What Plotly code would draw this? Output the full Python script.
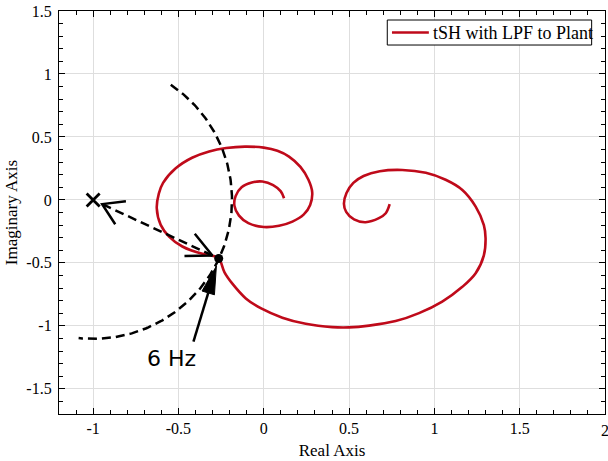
import numpy as np
import plotly.graph_objects as go

# ---------------- data ----------------
curve_re = [0.738, 0.715, 0.675, 0.597, 0.529, 0.483, 0.470, 0.485, 0.525, 0.585,
            0.680, 0.812, 0.950, 1.066, 1.164, 1.242, 1.290, 1.300, 1.290, 1.242,
            1.164, 1.046, 0.910, 0.773, 0.617, 0.500, 0.402, 0.246, 0.109, -0.015,
            -0.105, -0.184, -0.230, -0.262,
            -0.300, -0.360, -0.477, -0.555, -0.604, -0.627, -0.615, -0.590, -0.516, -0.420,
            -0.320, -0.220, -0.110, 0.000, 0.080, 0.148, 0.215, 0.262, 0.284, 0.272,
            0.235, 0.168, 0.090, 0.000, -0.090, -0.145, -0.172, -0.165, -0.130, -0.070,
            -0.008, 0.055, 0.100, 0.119]
curve_im = [-0.034, -0.106, -0.145, -0.177, -0.155, -0.095, -0.030, 0.055, 0.135, 0.190,
            0.228, 0.238, 0.215, 0.160, 0.079, -0.053, -0.200, -0.304, -0.440, -0.582,
            -0.690, -0.807, -0.899, -0.962, -0.998, -1.012, -1.010, -0.984, -0.935, -0.862,
            -0.782, -0.665, -0.575, -0.468,
            -0.443, -0.428, -0.370, -0.291, -0.198, -0.066, 0.050, 0.135, 0.251, 0.335,
            0.385, 0.412, 0.423, 0.415, 0.390, 0.344, 0.262, 0.160, 0.060, -0.040,
            -0.115, -0.172, -0.205, -0.215, -0.185, -0.125, -0.045, 0.030, 0.100, 0.138,
            0.146, 0.118, 0.068, 0.013]
series_name = "tSH with LPF to Plant"

point_re, point_im = -0.264, -0.465          # 6 Hz point
crit_re, crit_im = -1.0, 0.0                  # critical point (-1, 0)
arc_center = (-1.0, 0.0)
arc_rx, arc_ry = 0.814, 1.103                 # guide arc radii (data units)
arc_start_deg, arc_end_deg = 56.0, -96.0
label_text = "6 Hz"
label_re, label_im = -0.538, -1.262
label_arrow_re, label_arrow_im = -0.412, -1.125

x_range = [-1.2, 2.0]
y_range = [-1.7, 1.5]
x_tickvals = [-1, -0.5, 0, 0.5, 1, 1.5]
x_ticktext = ["-1", "-0.5", "0", "0.5", "1", "1.5"]
x_edge_tick, x_edge_text = 2, "2"
y_tickvals = [-1.5, -1, -0.5, 0, 0.5, 1, 1.5]
y_ticktext = ["-1.5", "-1", "-0.5", "0", "0.5", "1", "1.5"]

# ---------------- layout geometry ----------------
W, H = 608, 461
ML, MR, MT, MB = 59, 1.3, 11, 47.3
pw = W - ML - MR
ph = H - MT - MB
sx = pw / (x_range[1] - x_range[0])
sy = ph / (y_range[1] - y_range[0])

RED = "#BF0A1A"
SERIF = "Liberation Serif, Times New Roman, serif"


def to_px(dx, dy):
    return dx * sx, -dy * sy


def to_data(px, py):
    return px / sx, -py / sy


def unit_px(x0, y0, x1, y1):
    vx, vy = to_px(x1 - x0, y1 - y0)
    n = np.hypot(vx, vy)
    return vx / n, vy / n


def move(x, y, ux, uy, dist):
    dx, dy = to_data(ux * dist, uy * dist)
    return x + dx, y + dy


def open_head(tx, ty, ux, uy, length, ang_deg):
    """ux,uy: unit pixel direction of travel toward tip"""
    bx, by = -ux, -uy
    pts = []
    for s in (1, -1):
        a = np.radians(ang_deg) * s
        rx = bx * np.cos(a) - by * np.sin(a)
        ry = bx * np.sin(a) + by * np.cos(a)
        pts.append(move(tx, ty, rx, ry, length))
    return [pts[0][0], tx, pts[1][0]], [pts[0][1], ty, pts[1][1]]


def paper_x(px):
    return (px - ML) / pw


def paper_y(py):
    return (MT + ph - py) / ph


fig = go.Figure()

# red Nyquist curve
fig.add_trace(go.Scatter(x=curve_re, y=curve_im, mode="lines", name=series_name, showlegend=False,
                         line=dict(color=RED, width=2.6, shape="spline", smoothing=1.0)))

# dashed guide arc around (-1,0)
t = np.radians(np.linspace(arc_start_deg, arc_end_deg, 200))
fig.add_trace(go.Scatter(x=arc_center[0] + arc_rx * np.cos(t), y=arc_center[1] + arc_ry * np.sin(t),
                         mode="lines", showlegend=False, hoverinfo="skip",
                         line=dict(color="black", width=2.5, dash="9px,5px")))

# dashed double arrow between (-1,0) and the 6 Hz point
ux, uy = unit_px(crit_re, crit_im, point_re, point_im)
tA = move(crit_re, crit_im, ux, uy, 10)          # tip near (-1,0)
tB = move(point_re, point_im, -ux, -uy, 7)       # tip near point
fig.add_trace(go.Scatter(x=[tB[0], tA[0]], y=[tB[1], tA[1]], mode="lines", showlegend=False,
                         hoverinfo="skip", line=dict(color="black", width=2.5, dash="9px,5px")))
hx, hy = open_head(tA[0], tA[1], -ux, -uy, 24, 32)
fig.add_trace(go.Scatter(x=hx, y=hy, mode="lines", showlegend=False, hoverinfo="skip",
                         line=dict(color="black", width=2.5)))
hx, hy = open_head(tB[0], tB[1], ux, uy, 28, 26)
fig.add_trace(go.Scatter(x=hx, y=hy, mode="lines", showlegend=False, hoverinfo="skip",
                         line=dict(color="black", width=2.5)))

# solid arrow from label to the point
vx, vy = unit_px(label_arrow_re, label_arrow_im, point_re, point_im)
tip = move(point_re, point_im, -vx, -vy, 8)
base = move(tip[0], tip[1], -vx, -vy, 28)
b1 = move(base[0], base[1], -vy, vx, 6.5)
b2 = move(base[0], base[1], vy, -vx, 6.5)
fig.add_trace(go.Scatter(x=[label_arrow_re, base[0]], y=[label_arrow_im, base[1]], mode="lines",
                         showlegend=False, hoverinfo="skip", line=dict(color="black", width=2.5)))
fig.add_trace(go.Scatter(x=[tip[0], b1[0], b2[0], tip[0]], y=[tip[1], b1[1], b2[1], tip[1]],
                         mode="lines", fill="toself", fillcolor="black", showlegend=False,
                         hoverinfo="skip", line=dict(color="black", width=1)))

# markers
fig.add_trace(go.Scatter(x=[crit_re], y=[crit_im], mode="markers", showlegend=False, hoverinfo="skip",
                         marker=dict(symbol="x-thin", size=13, line=dict(color="black", width=2.8))))
fig.add_trace(go.Scatter(x=[point_re], y=[point_im], mode="markers", showlegend=False, hoverinfo="skip",
                         marker=dict(symbol="circle", size=9, color="black")))

fig.add_annotation(x=label_re, y=label_im, text=label_text, showarrow=False,
                   font=dict(family="DejaVu Sans", size=22, color="black"))

# edge tick label "2" (half clipped by the page edge in the reference)
fig.add_annotation(x=x_edge_tick, xref="x", yref="paper", y=paper_y(430.5), text=x_edge_text,
                   showarrow=False, xanchor="center", yanchor="middle",
                   font=dict(family=SERIF, size=16, color="black"))

# legend box (drawn to match the reference's compact legend)
LX0, LX1, LY0, LY1 = 388.3, 593.3, 20, 45
fig.add_shape(type="rect", xref="paper", yref="paper",
              x0=paper_x(LX0), x1=paper_x(LX1), y0=paper_y(LY1), y1=paper_y(LY0),
              line=dict(color="black", width=1), fillcolor="white", layer="above")
fig.add_shape(type="line", xref="paper", yref="paper",
              x0=paper_x(393), x1=paper_x(430), y0=paper_y(32.5), y1=paper_y(32.5),
              line=dict(color=RED, width=2.6), layer="above")
fig.add_annotation(xref="paper", yref="paper", x=paper_x(432.5), y=paper_y(33),
                   xanchor="left", yanchor="middle", text=series_name, showarrow=False,
                   font=dict(family=SERIF, size=18, color="black"))

axis_common = dict(showline=True, linecolor="black", linewidth=1.3, mirror="ticks",
                   ticks="inside", ticklen=6, tickwidth=1.2, tickcolor="black",
                   showgrid=True, gridcolor="#DEDEDE", gridwidth=1.4, zeroline=False,
                   tickfont=dict(family=SERIF, size=16, color="black"),
                   minor=dict(ticks="inside", ticklen=4, tickwidth=1.1, tickcolor="black",
                              dtick=0.1, showgrid=False))

fig.update_xaxes(range=x_range, tickvals=x_tickvals, ticktext=x_ticktext,
                 title=dict(text="Real Axis", font=dict(family=SERIF, size=17, color="black"), standoff=7),
                 ticklabelstandoff=0, **axis_common)
fig.update_yaxes(range=y_range, tickvals=y_tickvals, ticktext=y_ticktext,
                 title=dict(text="Imaginary Axis", font=dict(family=SERIF, size=17, color="black"), standoff=4),
                 ticklabelstandoff=3, **axis_common)

fig.update_layout(width=W, height=H, autosize=False,
                  margin=dict(l=ML, r=MR, t=MT, b=MB),
                  plot_bgcolor="white", paper_bgcolor="white",
                  showlegend=False)

fig.write_html("out.html")
